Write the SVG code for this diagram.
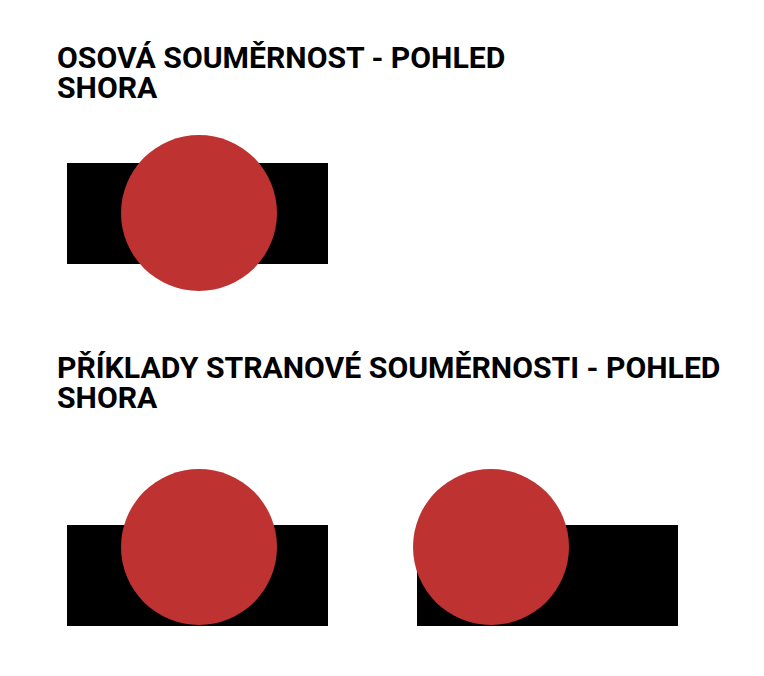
<svg xmlns="http://www.w3.org/2000/svg" width="764" height="676" viewBox="0 0 764 676">
<style>
.t{font-family:Roboto,"Liberation Sans",sans-serif;font-weight:700;font-size:30.2px;fill:#000}
.r{fill:#000}
.c{fill:#bf3232}
</style>
<rect width="764" height="676" fill="#fff"/>
<g id="title1"><text class="t" x="57" y="67.5">OSOVÁ SOUMĚRNOST - POHLED</text><text class="t" x="57" y="97.5">SHORA</text></g>
<g id="title2"><text class="t" x="57" y="377.5">PŘÍKLADY STRANOVÉ SOUMĚRNOSTI - POHLED</text><text class="t" x="57" y="407.5">SHORA</text></g>
<g id="axial"><rect class="r" x="67" y="163" width="261" height="101"/><circle class="c" cx="199" cy="213" r="78"/></g>
<g id="side1"><rect class="r" x="67" y="525" width="261" height="101"/><circle class="c" cx="199" cy="547" r="78"/></g>
<g id="side2"><rect class="r" x="417" y="525" width="261" height="101"/><circle class="c" cx="491" cy="547" r="78"/></g>
</svg>
